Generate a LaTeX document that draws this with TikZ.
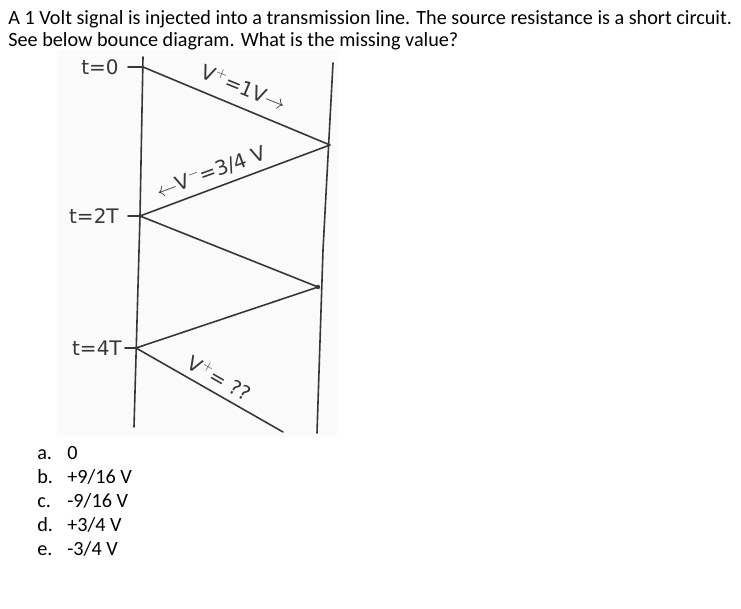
\documentclass[tikz,border=0pt]{standalone}
\usepackage{fontspec}
\setmainfont{Carlito}
\newfontfamily\handfont{DejaVu Sans}
\usepackage{tikz}
\usetikzlibrary{arrows,positioning}
\definecolor{ink}{RGB}{55,55,55}

\begin{document}
\begin{tikzpicture}[x=1pt,y=-1pt,>=stealth',semithick]
\tikzstyle{wire} = [draw=ink,line width=1.6pt,line cap=round,line join=round]
\tikzstyle{hand} = [inner sep=0pt,font=\handfont\fontsize{20}{20}\selectfont,text=ink]
\tikzstyle{txt} = [inner sep=0pt,anchor=base west,font=\fontsize{20.2}{24}\selectfont]
\useasboundingbox (0,0) rectangle (741,608);
    % scanned sketch background
    \fill[black!2] (57,50) rectangle (337,437);

    % question
    \node[txt] (q1) at (8,24) {A 1 Volt signal is injected into a transmission line. The source resistance is a short circuit.};
    \node[txt] (q2) at (8,46) {See below bounce diagram. What is the missing value?};

    % ends of the line
    \coordinate (ltop) at (143,57);
    \coordinate (lbot) at (134,427);
    \coordinate (rtop) at (333,63);
    \coordinate (rbot) at (317,433);
    \draw[wire] (ltop) -- (140,216) -- (lbot);
    \draw[wire] (rtop) -- (323,250) -- (rbot);

    % bounce points
    \coordinate (b0) at (143,67);
    \coordinate (b1) at (330,145);
    \coordinate (b2) at (140,216);
    \coordinate (b3) at (318,287);
    \coordinate (b4) at (136,348);
    \coordinate (b5) at (283,432);
    \draw[wire] (b0) -- (b1) -- (b2) -- (b3) -- (b4) -- (b5);
    \fill[ink] (b3) circle (2.2pt);

    % time marks
    \node[hand,anchor=east] (t0) at (119,67) {t=0};
    \node[hand,anchor=east] (t2) at (119,216) {t=2T};
    \node[hand,anchor=east] (t4) at (122,348) {t=4T};
    \draw[wire] (128,67) -- (b0);
    \draw[wire] (128,216) -- (b2);
    \draw[wire] (125,348) -- (b4);

    % waves
    \node[hand,rotate=-22] (vp1) at (244,87) {V$^{+}$=1V$\rightarrow$};
    \node[hand,rotate=20] (vm1) at (211,172) {$\leftarrow$V$^{-}$=3/4 V};
    \node[hand,rotate=-30] (vp2) at (220,378) {V$^{+}$= ??};

    % answers
    \foreach \lab/\val [count=\i from 0] in {a./{0},b./{+9/16 V},c./{-9/16 V},d./{+3/4 V},e./{-3/4 V}}{
        \node[txt] (l\i) at (37,459+24*\i) {\lab};
        \node[txt] (v\i) at (67,459+24*\i) {\val};
    }
\end{tikzpicture}
\end{document}
